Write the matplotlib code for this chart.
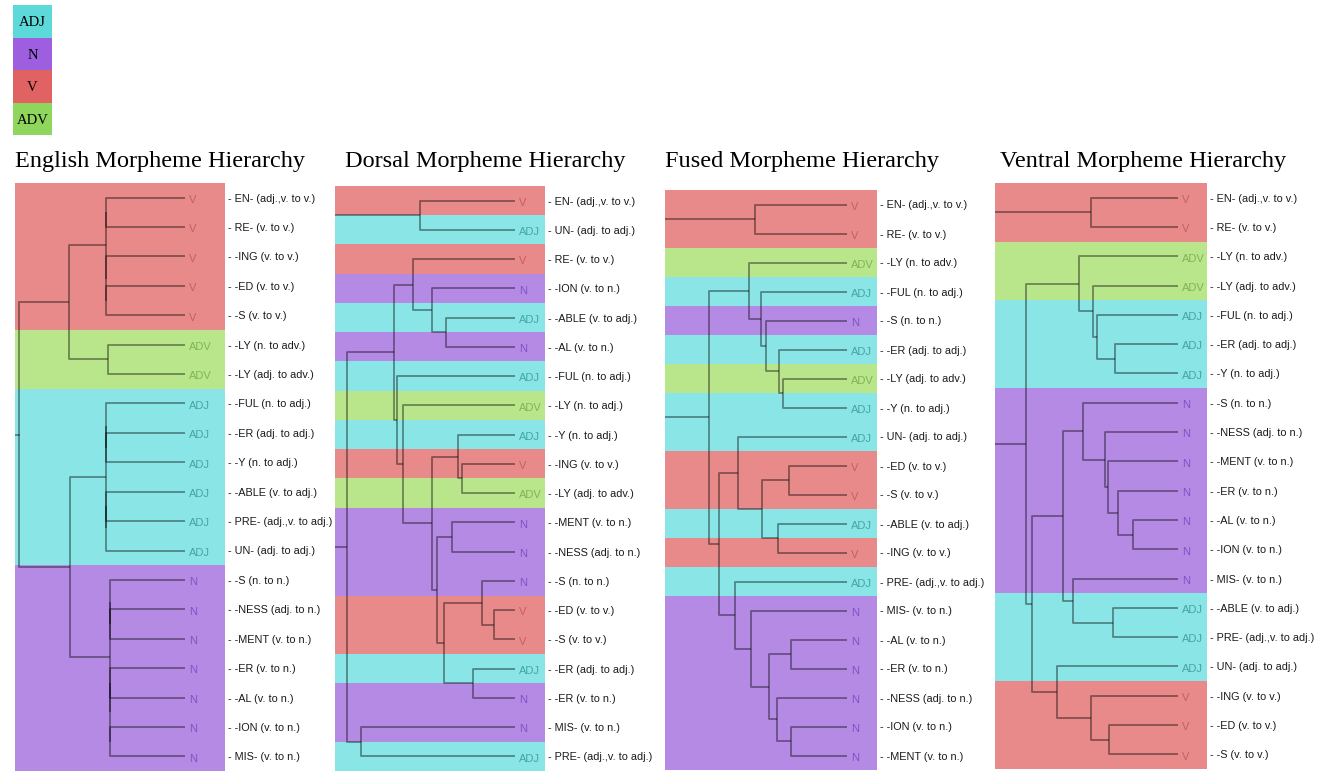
import matplotlib
matplotlib.use("Agg")
import matplotlib.pyplot as plt

# colours for the word classes
band_colors = {'ADJ': '#8ae6e6', 'N': '#b58ae5', 'V': '#e88a8a', 'ADV': '#b9e58b'}
legend_colors = {'ADJ': '#5ed9d9', 'N': '#9d5ee0', 'V': '#e06262', 'ADV': '#8fd65c'}
leaf_text_colors = {'ADJ': '#45a5a5', 'N': '#8350c4', 'V': '#c46060', 'ADV': '#80b556'}
legend_order = ['ADJ', 'N', 'V', 'ADV']

# ---------------- English ----------------
english_labels = ['EN- (adj.,v. to v.)', 'RE- (v. to v.)', '-ING (v. to v.)', '-ED (v. to v.)',
                  '-S (v. to v.)', '-LY (n. to adv.)', '-LY (adj. to adv.)', '-FUL (n. to adj.)',
                  '-ER (adj. to adj.)', '-Y (n. to adj.)', '-ABLE (v. to adj.)',
                  'PRE- (adj.,v. to adj.)', 'UN- (adj. to adj.)', '-S (n. to n.)',
                  '-NESS (adj. to n.)', '-MENT (v. to n.)', '-ER (v. to n.)', '-AL (v. to n.)',
                  '-ION (v. to n.)', 'MIS- (v. to n.)']
english_classes = ['V'] * 5 + ['ADV'] * 2 + ['ADJ'] * 6 + ['N'] * 7
# merges: (child a, child b, height); ids >= 20 are earlier merges
english_merges = [(0, 1, 79), (3, 4, 79), (2, 21, 79), (20, 22, 79), (5, 6, 77),
                  (23, 24, 116), (8, 9, 79), (7, 26, 79), (10, 11, 79), (28, 12, 79),
                  (27, 29, 79), (14, 15, 75), (13, 31, 75), (16, 17, 75), (18, 19, 75),
                  (33, 34, 75), (32, 35, 75), (30, 36, 115), (25, 37, 166)]

# ---------------- Dorsal ----------------
dorsal_labels = ['EN- (adj.,v. to v.)', 'UN- (adj. to adj.)', 'RE- (v. to v.)', '-ION (v. to n.)',
                 '-ABLE (v. to adj.)', '-AL (v. to n.)', '-FUL (n. to adj.)', '-LY (n. to adj.)',
                 '-Y (n. to adj.)', '-ING (v. to v.)', '-LY (adj. to adv.)', '-MENT (v. to n.)',
                 '-NESS (adj. to n.)', '-S (n. to n.)', '-ED (v. to v.)', '-S (v. to v.)',
                 '-ER (adj. to adj.)', '-ER (v. to n.)', 'MIS- (v. to n.)', 'PRE- (adj.,v. to adj.)']
dorsal_classes = ['V', 'ADJ', 'V', 'N', 'ADJ', 'N', 'ADJ', 'ADV', 'ADJ', 'V', 'ADV', 'N', 'N', 'N',
                  'V', 'V', 'ADJ', 'N', 'N', 'ADJ']
dorsal_merges = [(0, 1, 95), (4, 5, 69), (3, 21, 83), (2, 22, 102), (9, 10, 53), (8, 24, 57),
                 (11, 12, 63), (14, 15, 21), (13, 27, 33), (16, 17, 42), (28, 29, 71),
                 (26, 30, 78), (25, 31, 83), (7, 32, 112), (6, 33, 118), (23, 34, 121),
                 (18, 19, 154), (35, 36, 168), (20, 37, 182)]

# ---------------- Fused ----------------
fused_labels = ['EN- (adj.,v. to v.)', 'RE- (v. to v.)', '-LY (n. to adv.)', '-FUL (n. to adj.)',
                '-S (n. to n.)', '-ER (adj. to adj.)', '-LY (adj. to adv.)', '-Y (n. to adj.)',
                'UN- (adj. to adj.)', '-ED (v. to v.)', '-S (v. to v.)', '-ABLE (v. to adj.)',
                '-ING (v. to v.)', 'PRE- (adj.,v. to adj.)', 'MIS- (v. to n.)', '-AL (v. to n.)',
                '-ER (v. to n.)', '-NESS (adj. to n.)', '-ION (v. to n.)', '-MENT (v. to n.)']
fused_classes = ['V', 'V', 'ADV', 'ADJ', 'N', 'ADJ', 'ADV', 'ADJ', 'ADJ', 'V', 'V', 'ADJ', 'V',
                 'ADJ', 'N', 'N', 'N', 'N', 'N', 'N']
fused_merges = [(0, 1, 92), (6, 7, 64), (5, 21, 68), (4, 22, 81), (3, 23, 86), (2, 24, 98),
                (9, 10, 58), (11, 12, 69), (26, 27, 85), (8, 28, 109), (18, 19, 56),
                (17, 30, 70), (15, 16, 56), (32, 31, 78), (14, 33, 96), (13, 34, 112),
                (29, 35, 128), (25, 36, 138), (20, 37, 184)]

# ---------------- Ventral ----------------
ventral_labels = ['EN- (adj.,v. to v.)', 'RE- (v. to v.)', '-LY (n. to adv.)', '-LY (adj. to adv.)',
                  '-FUL (n. to adj.)', '-ER (adj. to adj.)', '-Y (n. to adj.)', '-S (n. to n.)',
                  '-NESS (adj. to n.)', '-MENT (v. to n.)', '-ER (v. to n.)', '-AL (v. to n.)',
                  '-ION (v. to n.)', 'MIS- (v. to n.)', '-ABLE (v. to adj.)',
                  'PRE- (adj.,v. to adj.)', 'UN- (adj. to adj.)', '-ING (v. to v.)',
                  '-ED (v. to v.)', '-S (v. to v.)']
ventral_classes = ['V', 'V', 'ADV', 'ADV', 'ADJ', 'ADJ', 'ADJ', 'N', 'N', 'N', 'N', 'N', 'N', 'N',
                   'ADJ', 'ADJ', 'ADJ', 'V', 'V', 'V']
ventral_merges = [(0, 1, 87), (5, 6, 63), (4, 21, 81), (3, 22, 85), (2, 23, 99), (11, 12, 45),
                  (10, 25, 60), (9, 26, 70), (8, 27, 73), (7, 28, 95), (14, 15, 65),
                  (13, 30, 105), (29, 31, 115), (18, 19, 69), (17, 33, 87), (16, 34, 121),
                  (32, 35, 146), (24, 36, 152), (20, 37, 185)]

titles = ['English Morpheme Hierarchy', 'Dorsal Morpheme Hierarchy',
          'Fused Morpheme Hierarchy', 'Ventral Morpheme Hierarchy']

W, H = 1325, 778
fig = plt.figure(figsize=(W / 100, H / 100), dpi=100)


def px_axes(x0, y0, x1, y1):
    # axes placed from pixel box of the figure
    return fig.add_axes([x0 / W, 1 - y1 / H, (x1 - x0) / W, (y1 - y0) / H])


def draw_tree(ax, labels, classes, merges, left_edge, right_edge):
    n = len(labels)
    for i, c in enumerate(classes):
        ax.axhspan(i - 0.5, i + 0.5, color=band_colors[c], lw=0, zorder=0)
        ax.text(-4, i + 0.08, c, color=leaf_text_colors[c], fontsize=8, va='center',
                ha='left', family='Liberation Sans', zorder=3)

    ys = list(range(n))
    hs = [0] * n
    for a, b, h in merges:
        ax.plot([hs[a], h, h, hs[b]], [ys[a], ys[a], ys[b], ys[b]],
                color='black', alpha=0.42, lw=1.3, zorder=2, solid_capstyle='butt')
        ys.append((ys[a] + ys[b]) / 2)
        hs.append(h)
    # stub from root to the left edge
    ax.plot([hs[-1], left_edge + 5], [ys[-1], ys[-1]], color='black', alpha=0.42, lw=1.3, zorder=2)

    ax.set_xlim(left_edge, -right_edge)
    ax.set_ylim(n - 0.5, -0.5)
    ax.set_xticks([])
    ax.set_yticks(range(n))
    # the little dash in front of every label
    ax.set_yticklabels(['- ' + s for s in labels], family='Liberation Sans', fontsize=7.8,
                       color='#1a1a1a')
    ax.yaxis.tick_right()
    ax.tick_params(axis='y', length=0, pad=2.5)
    for s in ax.spines.values():
        s.set_visible(False)


# panel boxes in pixels: x0, y0, x1, y1, left edge distance, right margin
panels = [
    (15, 183, 225, 771, 170, 40),
    (335, 186, 545, 771, 180, 30),
    (665, 190, 877, 770, 182, 30),
    (995, 183, 1207, 769, 183, 29),
]
trees = [
    (english_labels, english_classes, english_merges),
    (dorsal_labels, dorsal_classes, dorsal_merges),
    (fused_labels, fused_classes, fused_merges),
    (ventral_labels, ventral_classes, ventral_merges),
]
title_x = [15, 345, 665, 1000]

for (x0, y0, x1, y1, le, re), (lab, cls, mer), t, tx in zip(panels, trees, titles, title_x):
    ax = px_axes(x0, y0, x1, y1)
    draw_tree(ax, lab, cls, mer, le, re)
    fig.text(tx / W, 1 - 162 / H, t, family='Liberation Serif', fontsize=17.5,
             va='center', ha='left', color='black')

# legend boxes at top-left
lax = px_axes(13, 5, 52, 135)
for i, c in enumerate(legend_order):
    lax.axhspan(i, i + 1, color=legend_colors[c], lw=0)
    lax.text(0.5, i + 0.55, c, ha='center', va='center', family='Liberation Serif',
             fontsize=10.5, color='black')
lax.set_xlim(0, 1)
lax.set_ylim(len(legend_order), 0)
lax.axis('off')

fig.savefig('out.png', dpi=100)
